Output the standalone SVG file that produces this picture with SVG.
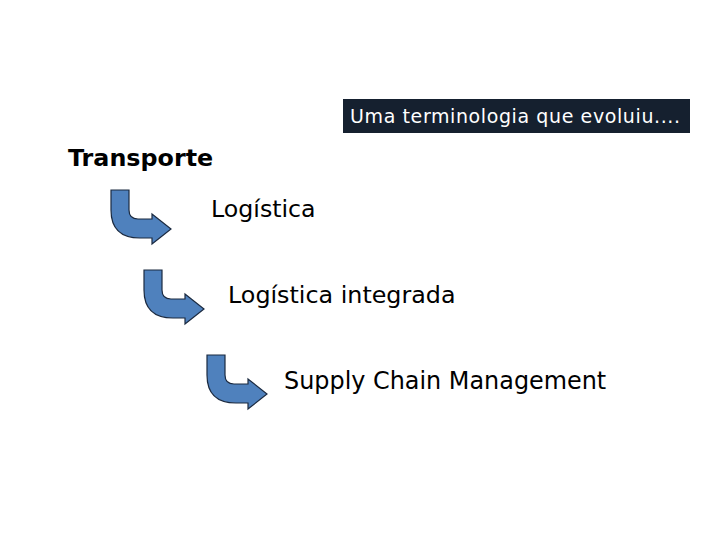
<svg xmlns="http://www.w3.org/2000/svg" width="720" height="540" viewBox="0 0 720 540">
<style>
.t{font-family:"DejaVu Sans",Verdana,sans-serif;fill:#000}
.arr{fill:#4F81BD;stroke:#1B2A40;stroke-width:1.2;stroke-linejoin:miter}
</style>
<defs>
<path id="bent" d="M111,190 L129,190 L129,210 Q129,219 138,219 L152,219 L152,214 L171,229 L152,244 L152,238 L140,238 Q111,238 111,210 Z"/>
</defs>
<rect width="720" height="540" fill="#fff"/>
<g id="title-box">
<rect x="343" y="99" width="347" height="34" fill="#15202F"/>
<text class="t" x="350" y="123" font-size="19" textLength="330" lengthAdjust="spacing" style="fill:#fff">Uma terminologia que evoluiu....</text>
</g>
<g id="transporte"><text class="t" x="68" y="166" font-size="23.8" font-weight="bold">Transporte</text></g>
<g id="logistica"><text class="t" x="211" y="217" font-size="23.7">Logística</text></g>
<g id="logistica-integrada"><text class="t" x="228" y="303" font-size="23.8">Logística integrada</text></g>
<g id="scm"><text class="t" x="284" y="389" font-size="23.9">Supply Chain Management</text></g>
<g id="connectors">
<use href="#bent" class="arr"/>
<use href="#bent" class="arr" transform="translate(33,80)"/>
<use href="#bent" class="arr" transform="translate(96,165)"/>
</g>
</svg>
